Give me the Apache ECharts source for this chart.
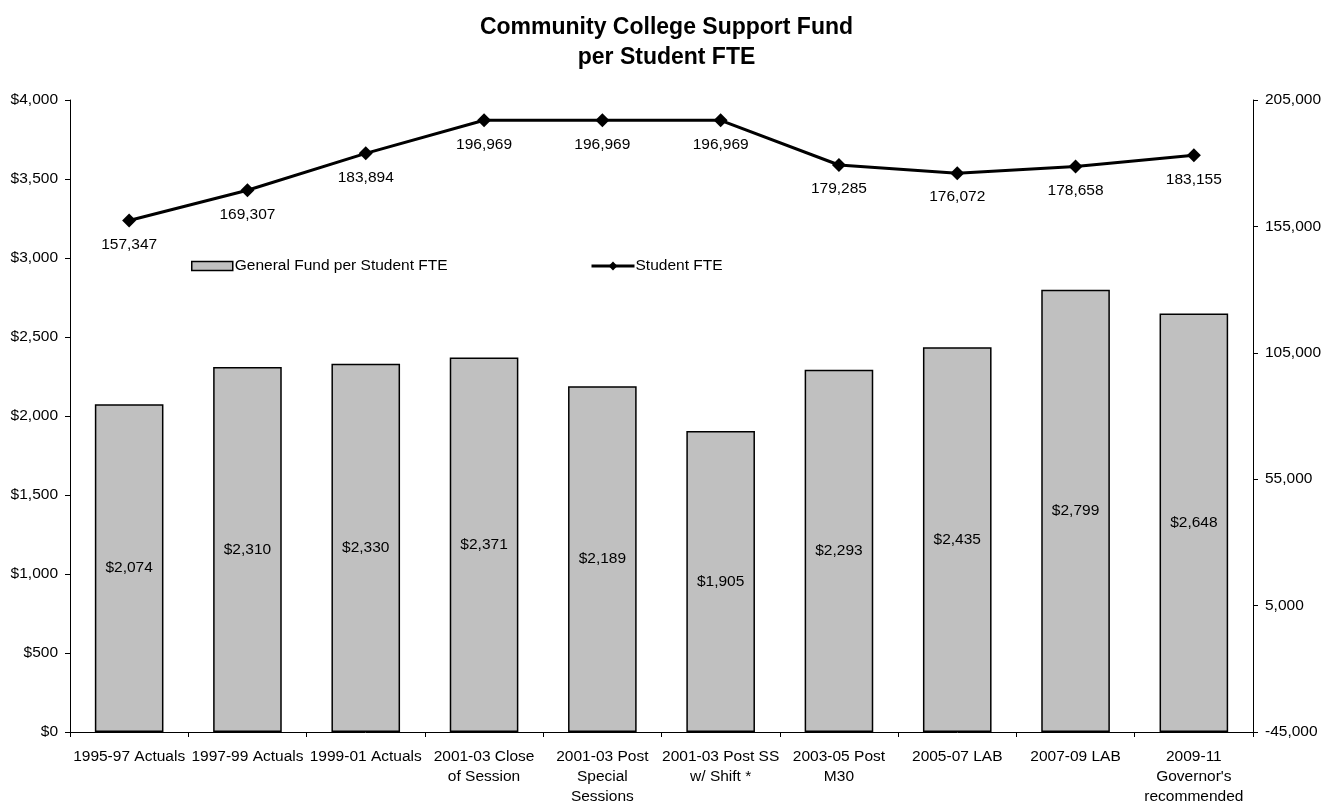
<!DOCTYPE html>
<html>
<head>
<meta charset="utf-8">
<script src="https://cdn.jsdelivr.net/npm/echarts@6/dist/echarts.min.js"></script>
<style>html,body{margin:0;padding:0;background:#fff;}#chart{width:1333px;height:802px;}</style>
</head>
<body>
<div id="chart"></div>
<script>
const categories = ['1995-97 Actuals','1997-99 Actuals','1999-01 Actuals','2001-03 Close\nof Session','2001-03 Post\nSpecial\nSessions','2001-03 Post SS\nw/ Shift *','2003-05 Post\nM30','2005-07 LAB','2007-09 LAB','2009-11\nGovernor\'s\nrecommended'];
const fundPerFTE = [2074, 2310, 2330, 2371, 2189, 1905, 2293, 2435, 2799, 2648];
const studentFTE = [157347, 169307, 183894, 196969, 196969, 196969, 179285, 176072, 178658, 183155];

const FONT = '"Liberation Sans", Arial, sans-serif';
const FS = 15.5;
const chart = echarts.init(document.getElementById('chart'));
const fmtNum = v => Math.round(v).toLocaleString('en-US');
chart.setOption({
  animation: false,
  backgroundColor: '#fff',
  textStyle: { fontFamily: FONT, color: '#000' },
  title: {
    text: 'Community College Support Fund\nper Student FTE',
    left: 'center', top: 8,
    textStyle: { fontFamily: FONT, fontSize: 23, fontWeight: 'bold', color: '#000', lineHeight: 30 }
  },
  legend: [
    { data: [{ name: 'General Fund per Student FTE', icon: 'rect' }], left: 186, top: 253, itemWidth: 41, itemHeight: 9, itemGap: 4,
      itemStyle: { borderColor: '#000', borderWidth: 1.5 },
      textStyle: { fontFamily: FONT, fontSize: FS, color: '#000', padding: [0,0,0,-3] } },
    { data: ['Student FTE'], left: 585, top: 253, itemWidth: 43, itemHeight: 11,
      lineStyle: { width: 3, color: '#000' },
      textStyle: { fontFamily: FONT, fontSize: FS, color: '#000', padding: [0,0,0,-4] } }
  ],
  grid: { left: 70, right: 80, top: 100, bottom: 70, containLabel: false, outerBoundsMode: 'none' },
  xAxis: {
    type: 'category', data: categories,
    axisLine: { lineStyle: { color: '#000', width: 1 } },
    axisTick: { show: true, length: 5, inside: false, lineStyle: { color: '#000' } },
    axisLabel: { interval: 0, fontFamily: FONT, fontSize: FS, color: '#000', margin: 15, lineHeight: 20 }
  },
  yAxis: [
    { type: 'value', min: 0, max: 4000, interval: 500, position: 'left',
      axisLine: { show: true, lineStyle: { color: '#000' } },
      axisTick: { show: true, length: 5, lineStyle: { color: '#000' } },
      splitLine: { show: false },
      axisLabel: { fontFamily: FONT, fontSize: FS, color: '#000', margin: 12, formatter: v => '$' + fmtNum(v) } },
    { type: 'value', min: -45000, max: 205000, interval: 50000, position: 'right',
      axisLine: { show: true, lineStyle: { color: '#000' } },
      axisTick: { show: true, length: 5, lineStyle: { color: '#000' } },
      splitLine: { show: false },
      axisLabel: { fontFamily: FONT, fontSize: FS, color: '#000', margin: 12, formatter: v => fmtNum(v) } }
  ],
  series: [
    { name: 'General Fund per Student FTE', type: 'bar', yAxisIndex: 0, data: fundPerFTE, barWidth: '58%',
      itemStyle: { color: '#C0C0C0', borderColor: '#000', borderWidth: 1.5 },
      label: { show: true, position: 'inside', fontFamily: FONT, fontSize: FS, color: '#000', formatter: p => '$' + fmtNum(p.value) } },
    { name: 'Student FTE', type: 'line', yAxisIndex: 1, data: studentFTE,
      symbol: 'diamond', symbolSize: 14,
      lineStyle: { color: '#000', width: 3 }, itemStyle: { color: '#000' },
      label: { show: true, position: 'bottom', distance: 9, fontFamily: FONT, fontSize: FS, color: '#000', formatter: p => fmtNum(p.value) } }
  ]
});
</script>
</body>
</html>
